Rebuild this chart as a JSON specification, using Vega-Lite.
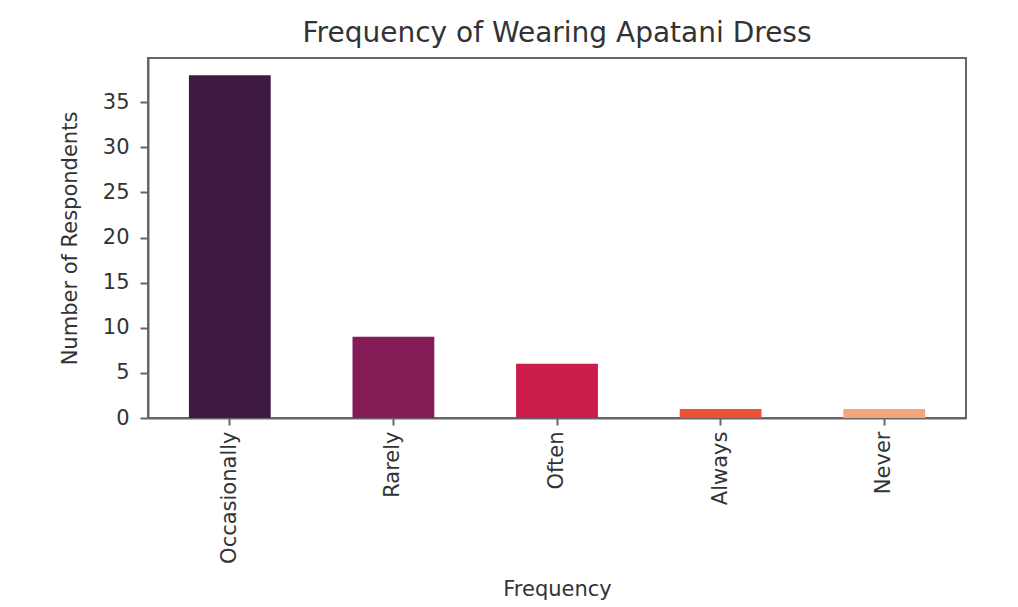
{
  "$schema": "https://vega.github.io/schema/vega-lite/v6.json",
  "width": 818,
  "height": 360,
  "autosize": {"type": "none"},
  "padding": {"left": 148, "top": 58, "right": 52, "bottom": 189},
  "background": "white",
  "data": {
    "values": [
      {"Frequency": "Occasionally", "Count": 38},
      {"Frequency": "Rarely", "Count": 9},
      {"Frequency": "Often", "Count": 6},
      {"Frequency": "Always", "Count": 1},
      {"Frequency": "Never", "Count": 1}
    ]
  },
  "title": {
    "text": "Frequency of Wearing Apatani Dress",
    "font": "DejaVu Sans",
    "fontSize": 28,
    "fontWeight": "normal",
    "color": "#333333",
    "offset": 10,
    "anchor": "middle"
  },
  "mark": {"type": "bar"},
  "encoding": {
    "x": {
      "field": "Frequency",
      "type": "nominal",
      "sort": null,
      "scale": {"paddingInner": 0.5, "paddingOuter": 0.25},
      "axis": {
        "title": "Frequency",
        "labelAngle": -90,
        "labelAlign": "right",
        "labelBaseline": "middle",
        "labelPadding": 6,
        "tickSize": 7,
        "titlePadding": 15
      }
    },
    "y": {
      "field": "Count",
      "type": "quantitative",
      "scale": {"domain": [0, 39.9], "nice": false, "zero": true},
      "axis": {
        "title": "Number of Respondents",
        "values": [0, 5, 10, 15, 20, 25, 30, 35],
        "grid": false,
        "tickSize": 8,
        "labelPadding": 11,
        "titlePadding": 22
      }
    },
    "color": {
      "field": "Frequency",
      "type": "nominal",
      "sort": null,
      "scale": {
        "domain": ["Occasionally", "Rarely", "Often", "Always", "Never"],
        "range": ["#3e1a40", "#851c58", "#cb1c4b", "#ea5335", "#f5a57e"]
      },
      "legend": null
    }
  },
  "config": {
    "font": "DejaVu Sans",
    "view": {"stroke": "#666666", "strokeWidth": 2},
    "axis": {
      "domainColor": "#666666",
      "domainWidth": 2,
      "tickColor": "#666666",
      "tickWidth": 2,
      "labelFont": "DejaVu Sans",
      "labelFontSize": 21,
      "labelColor": "#333333",
      "titleFont": "DejaVu Sans",
      "titleFontSize": 21,
      "titleFontWeight": "normal",
      "titleColor": "#333333"
    }
  }
}
